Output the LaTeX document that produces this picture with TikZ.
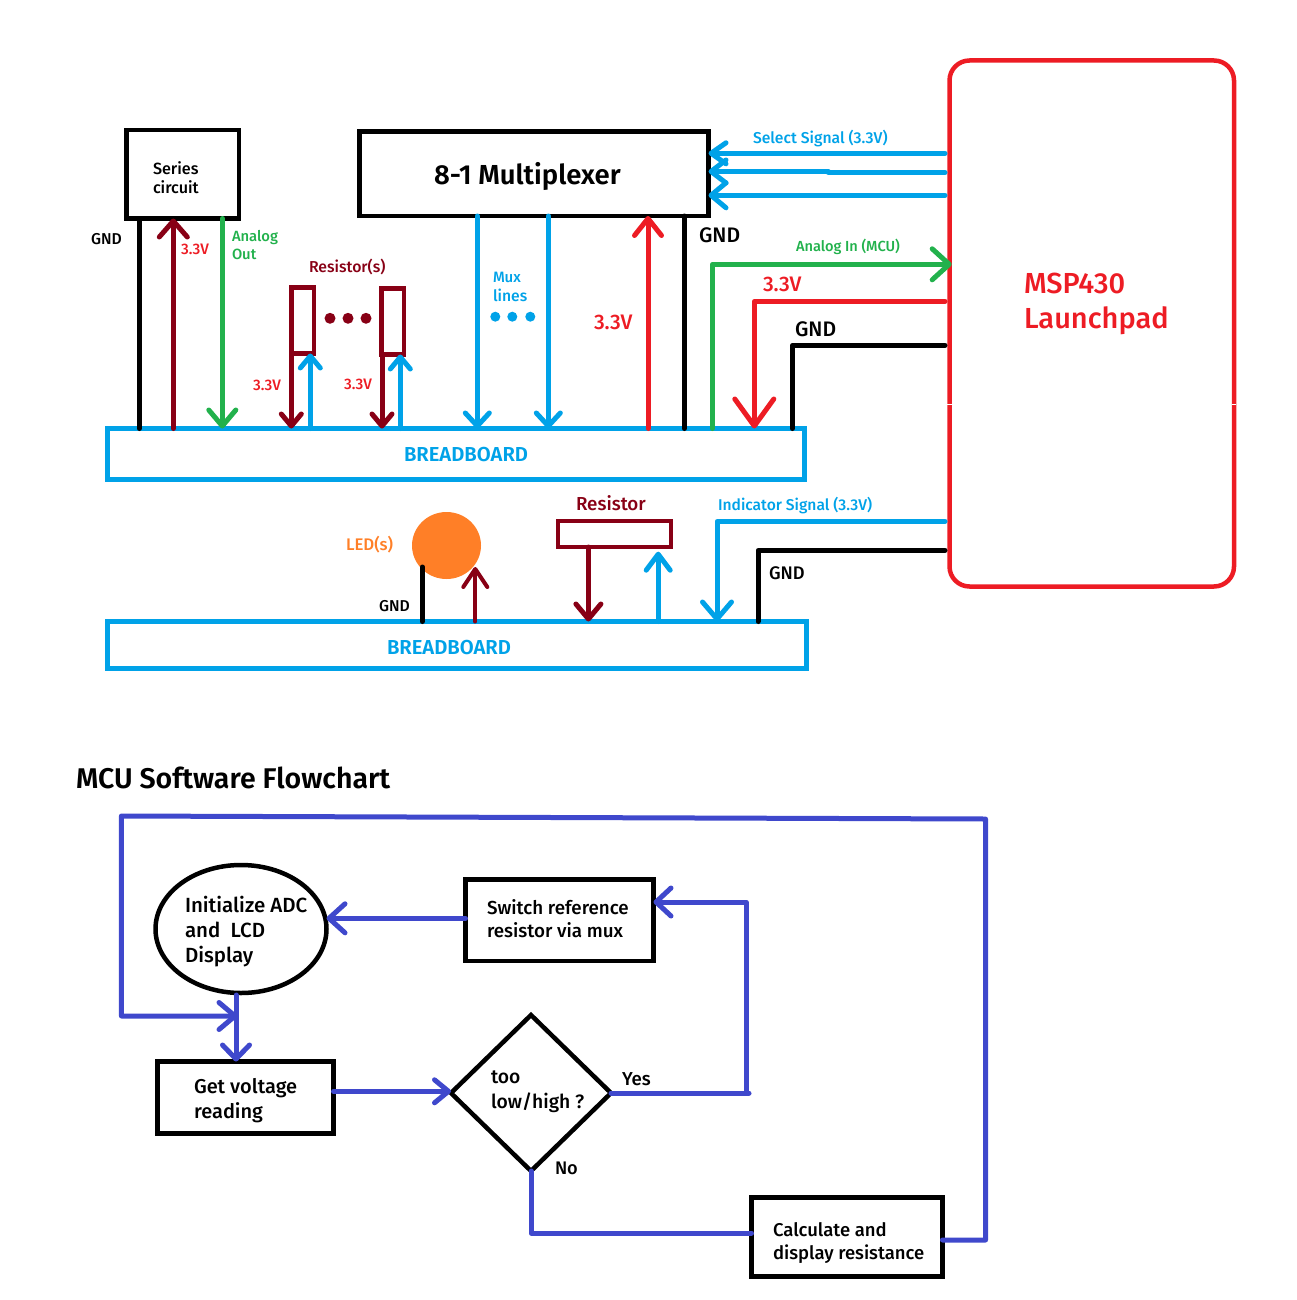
\documentclass[tikz,border=0pt]{standalone}
\usepackage{fontspec}
\setmainfont[BoldFont={Fira Sans SemiBold}]{Fira Sans Medium}
\usetikzlibrary{arrows.meta,shapes.geometric}
\definecolor{cblue}{HTML}{00A2E8}
\definecolor{cred}{HTML}{ED1C24}
\definecolor{cgreen}{HTML}{22B14C}
\definecolor{cdark}{HTML}{880015}
\definecolor{corange}{HTML}{FF7F27}
\definecolor{cind}{HTML}{3F48CC}
% text placed at an exact offset from the node centre: dx, dy (up), lines
\newcommand\placed[3]{\makebox[0pt][l]{\kern#1pt\smash{\raisebox{\dimexpr#2pt-0.33em\relax}{\begin{tabular}[c]{@{}l@{}}#3\end{tabular}}}}}
\newcommand\fs[2]{\fontsize{#1}{#2}\selectfont}
\tikzset{
  x=1pt,y=-1pt,
  boxed/.style={draw,line width=4.5pt,inner sep=0pt,outer sep=0pt,rectangle},
  wire/.style={line width=5pt,line cap=round,line join=round},
  barb/.style 2 args={-{Straight Barb[length=#1pt,width=#2pt,round]}},
  lab/.style={inner sep=0pt,outer sep=0pt,anchor=base west},
}
\begin{document}
\begin{tikzpicture}
\useasboundingbox (0,0) rectangle (1296,1300);
% --- nodes
\node[boxed,minimum width=112.5pt,minimum height=88.5pt,font=\fs{16.2}{19}] (ser) at (182.75,174.25) {\placed{-29.75}{-5}{Series\\circuit}};
\node[boxed,minimum width=349pt,minimum height=84.5pt,font=\fs{27.5}{32}\bfseries] (mux) at (534,173.75) {\placed{-100}{-1.25}{8-1 Multiplexer}};
\node[boxed,draw=cblue,minimum width=697pt,minimum height=51pt,text=cblue,font=\fs{20.2}{23}\bfseries] (bba) at (456,454) {\placed{-52}{-1}{BREADBOARD}};
\node[boxed,draw=cred,rounded corners=20pt,minimum width=284.5pt,minimum height=526pt,text=cred,font=\fs{29}{35}] (mcu) at (1091.75,323.5) {\placed{-67.75}{23}{MSP430\\Launchpad}};
\coordinate (mw) at ([xshift=-4.5pt]mcu.west);
\node[boxed,draw=cdark,minimum width=22.5pt,minimum height=66pt] (ra) at (302.75,320.5) {};
\node[boxed,draw=cdark,minimum width=22.5pt,minimum height=66pt] (rb) at (392.75,321.5) {};
\node[boxed,draw=cdark,minimum width=113pt,minimum height=26pt] (rc) at (614.5,534) {};
\node[ellipse,fill=corange,inner sep=0pt,outer sep=0pt,minimum width=69pt,minimum height=67pt] (led) at (446.5,545.5) {};
\node[boxed,draw=cblue,minimum width=699pt,minimum height=47pt,text=cblue,font=\fs{20.2}{23}\bfseries] (bbb) at (457,645) {\placed{-70}{-3}{BREADBOARD}};
\foreach \n/\x in {da/330,db/348,dc/366}
  \node[circle,fill=cdark,inner sep=0pt,minimum size=11pt] (\n) at (\x,318.3) {};
\foreach \n/\x in {ma/495.3,mb/512.3,mc/530.3}
  \node[circle,fill=cblue,inner sep=0pt,minimum size=10pt] (\n) at (\x,316.7) {};
% flowchart
\node[boxed,ellipse,minimum width=171pt,minimum height=128pt,font=\fs{20.5}{25}] (ini) at (241,929) {\placed{-56}{-1.5}{Initialize ADC\\and~ LCD\\Display}};
\node[boxed,minimum width=176pt,minimum height=72pt,font=\fs{20}{25}] (get) at (245.5,1097.5) {\placed{-51.5}{-2.5}{Get voltage\\reading}};
\node[boxed,minimum width=188pt,minimum height=81.5pt,font=\fs{18.8}{23}] (swi) at (559.5,920.25) {\placed{-72.5}{0.75}{Switch reference\\resistor via mux}};
\node[boxed,diamond,minimum width=160pt,minimum height=156pt,font=\fs{19.3}{25}] (dia) at (531,1093) {\placed{-40}{3}{too\\low/high ?}};
\node[boxed,minimum width=191pt,minimum height=79pt,font=\fs{18.5}{23}] (cal) at (847,1237) {\placed{-74}{-4.5}{Calculate and\\display resistance}};
% --- upper connectors
\draw[wire] (139.3,0 |- ser.south) -- (139.3,0 |- bba.north);
\draw[wire,cdark,barb={16}{28}] (173.3,0 |- bba.north) -- (173.3,0 |- ser.south);
\draw[wire,cgreen,barb={16}{27}] (222.3,0 |- ser.south) -- (222.3,0 |- bba.north);
\draw[wire,cdark,barb={12}{20}] (291.3,0 |- ra.south) -- (291.3,0 |- bba.north);
\draw[wire,cblue,barb={12}{20}] (310.3,0 |- bba.north) -- (310.3,0 |- ra.south);
\draw[wire,cdark,barb={12}{20}] (382,0 |- rb.south) -- (382,0 |- bba.north);
\draw[wire,cblue,barb={12}{20}] (400.3,0 |- bba.north) -- (400.3,0 |- rb.south);
\draw[wire,cblue,barb={13}{24}] (477.3,0 |- mux.south) -- (477.3,0 |- bba.north);
\draw[wire,cblue,barb={13}{24}] (548.3,0 |- mux.south) -- (548.3,0 |- bba.north);
\draw[wire,cred,barb={17}{27}] (648,0 |- bba.north) -- (648,0 |- mux.south);
\draw[wire] (684.3,0 |- mux.south) -- (684.3,0 |- bba.north);
\draw[wire,cgreen,barb={17}{31}] (712.3,0 |- bba.north) -- (712.3,264.3) -- (951.7,264.3);
\draw[wire,cred,barb={27}{39}] (mw |- 0,301.3) -- (754.3,301.3) -- (754.3,0 |- bba.north);
\draw[wire] (mw |- 0,345.3) -- (792.3,345.3) -- (792.3,0 |- bba.north);
\draw[wire,cblue,barb={15}{21}] (mw |- 0,153.3) -- (mux.east |- 0,153.3);
\draw[wire,cblue,barb={15}{23}] (mw |- 0,172.5) -- (828,172.5) -- (828,171.5) -- (mux.east |- 0,171.5);
\draw[wire,cblue,barb={15}{25}] (mw |- 0,195.3) -- (mux.east |- 0,195.3);
% small gaps in the MCU outline
\draw[white,line width=0.8pt] (947.3,404.3) -- (951.7,404.3);
\draw[white,line width=0.8pt] (1231.8,404.3) -- (1236.2,404.3);
% --- lower connectors
\draw[wire] (422.2,567) -- (422.2,0 |- bbb.north);
\draw[wire,cdark,line width=4pt,barb={18}{24}] (475.3,0 |- bbb.north) -- (475.3,567);
\draw[wire,cdark,barb={15}{25}] (588.4,0 |- rc.south) -- (588.4,0 |- bbb.north);
\draw[wire,cblue,barb={16}{24}] (658.2,0 |- bbb.north) -- (658.2,551.7);
\draw[wire,cblue,barb={17}{29}] (mw |- 0,521.3) -- (717,521.3) -- (717,0 |- bbb.north);
\draw[wire] (mw |- 0,550.3) -- (758,550.3) -- (758,0 |- bbb.north);
% --- flowchart connectors
\draw[wire,cind,barb={16}{29}] (swi.west |- 0,918.3) -- (ini.east |- 0,918.3);
\draw[wire,cind,barb={14}{27}] (236,995) -- (236,0 |- get.north);
\draw[wire,cind,barb={14}{23}] (get.east |- 0,1091.3) -- (dia.west |- 0,1091.3);
\coordinate (yesa) at (749,1093);
\coordinate (yesb) at (746,1093);
\coordinate (yesc) at (746,902);
\draw[wire,cind] (dia.east) -- (yesa);
\draw[wire,cind,barb={15}{28}] (yesb) -- (yesc) -- (swi.east |- yesc);
\coordinate (noa) at (dia.south |- 0,1233);
\draw[wire,cind] (dia.south) -- (noa) -- (cal.west |- noa);
\coordinate (lpa) at (985.5,1240);
\coordinate (lpb) at (985.5,819);
\coordinate (lpc) at (121.4,816);
\coordinate (lpd) at (121.4,1016);
\coordinate (lpe) at (237.5,1016);
\draw[wire,cind,barb={16}{27}] (cal.east |- lpa) -- (lpa) -- (lpb) -- (lpc) -- (lpd) -- (lpe);
% --- free labels
\node[lab,font=\fs{15.7}{18},text=cblue] (l1) at (753,143.5) {Select Signal (3.3V)};
\node[lab,font=\fs{21}{24}] (l2) at (699,242) {GND};
\node[lab,font=\fs{14.6}{18},text=cgreen] (l3) at (796,251) {Analog In (MCU)};
\node[lab,font=\fs{21}{24},text=cred] (l4) at (763,291) {3.3V};
\node[lab,font=\fs{21}{24}] (l5) at (795,336) {GND};
\node[lab,font=\fs{21}{24},text=cred] (l6) at (594,329) {3.3V};
\node[lab,font=\fs{15.7}{18}] (l7) at (91,244) {GND};
\node[lab,font=\fs{15.2}{18},text=cred] (l8) at (181,254) {3.3V};
\node[lab,font=\fs{14.8}{18},text=cgreen] (l9) at (232,241) {Analog};
\node[lab,font=\fs{14.8}{18},text=cgreen] (l10) at (232,259) {Out};
\node[lab,font=\fs{15.8}{18},text=cdark] (l11) at (309,272) {Resistor(s)};
\node[lab,font=\fs{15}{18},text=cblue] (l12) at (493,282) {Mux};
\node[lab,font=\fs{15.7}{18},text=cblue] (l13) at (493,301) {lines};
\node[lab,font=\fs{15.2}{18},text=cred] (l14) at (253,390) {3.3V};
\node[lab,font=\fs{15.2}{18},text=cred] (l15) at (344,389) {3.3V};
\node[lab,font=\fs{18.8}{22},text=cdark] (l16) at (576,510) {Resistor};
\node[lab,font=\fs{15.6}{18},text=cblue] (l17) at (718,510) {Indicator Signal (3.3V)};
\node[lab,font=\fs{16.8}{18},text=corange] (l18) at (346,550) {LED(s)};
\node[lab,font=\fs{15.7}{18}] (l19) at (379,611) {GND};
\node[lab,font=\fs{18.2}{20}] (l20) at (769,579) {GND};
\node[lab,font=\fs{28.5}{32}\bfseries] (l21) at (76,788) {MCU Software Flowchart};
\node[lab,font=\fs{18.7}{20}] (l22) at (622,1085) {Yes};
\node[lab,font=\fs{18.2}{20}] (l23) at (555,1174) {No};
\end{tikzpicture}
\end{document}
